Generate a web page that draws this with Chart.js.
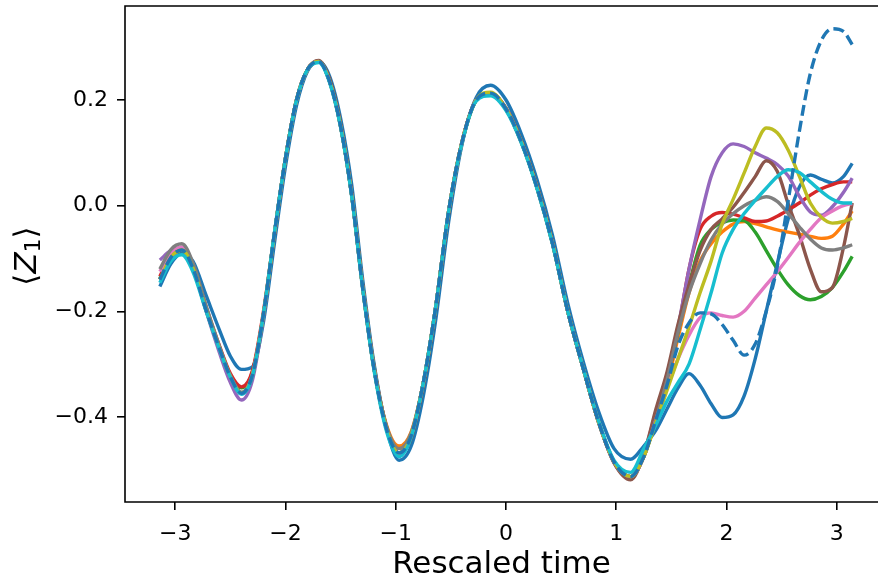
<!DOCTYPE html>
<html>
<head>
<meta charset="utf-8">
<script src="https://cdn.jsdelivr.net/npm/chart.js@4"></script>
<style>
  html, body { margin: 0; padding: 0; background: #fff; overflow: hidden; }
  canvas { display: block; }
</style>
</head>
<body>
<canvas id="myChart" width="878" height="580"></canvas>
<script>
// rescaled time samples shared by every run
var times = [-3.14, -3.04, -2.94, -2.84, -2.72, -2.6, -2.5, -2.4, -2.3, -2.2,
  -2.1, -2.0, -1.9, -1.8, -1.7, -1.6, -1.5, -1.4, -1.3, -1.2,
  -1.08, -0.97, -0.86, -0.75, -0.64, -0.52, -0.4, -0.27, -0.14, 0.0,
  0.14, 0.28, 0.42, 0.56, 0.7, 0.84, 0.98, 1.13, 1.25, 1.36,
  1.46, 1.56, 1.66, 1.76, 1.86, 1.96, 2.06, 2.16, 2.26, 2.36,
  2.46, 2.56, 2.66, 2.76, 2.86, 2.96, 3.06, 3.14];

var xTicks = [-3, -2, -1, 0, 1, 2, 3];
var yTicks = [-0.4, -0.2, 0.0, 0.2];

var runBlue = [-0.153, -0.11, -0.09, -0.105, -0.17, -0.235, -0.285, -0.31, -0.305, -0.22,
  -0.07, 0.075, 0.19, 0.255, 0.273, 0.245, 0.165, 0.04, -0.14, -0.295,
  -0.425, -0.482, -0.455, -0.36, -0.22, -0.03, 0.115, 0.205, 0.228, 0.2,
  0.135, 0.05, -0.055, -0.185, -0.295, -0.39, -0.46, -0.48, -0.455, -0.425,
  -0.385, -0.345, -0.318, -0.34, -0.375, -0.401, -0.396, -0.36, -0.29, -0.2,
  -0.11, -0.025, 0.035, 0.058, 0.05, 0.043, 0.055, 0.08];
var runOrange = [-0.14, -0.098, -0.084, -0.118, -0.198, -0.27, -0.324, -0.355, -0.32, -0.205,
  -0.052, 0.09, 0.2, 0.258, 0.273, 0.235, 0.15, 0.02, -0.155, -0.305,
  -0.418, -0.455, -0.428, -0.335, -0.195, -0.01, 0.12, 0.2, 0.213, 0.183,
  0.12, 0.035, -0.07, -0.2, -0.308, -0.41, -0.485, -0.513, -0.475, -0.405,
  -0.34, -0.25, -0.165, -0.105, -0.072, -0.05, -0.035, -0.03, -0.034, -0.04,
  -0.046, -0.05, -0.054, -0.058, -0.062, -0.058, -0.035, -0.01];
var runGreen = [-0.138, -0.098, -0.084, -0.118, -0.198, -0.27, -0.322, -0.345, -0.315, -0.205,
  -0.052, 0.09, 0.2, 0.258, 0.273, 0.235, 0.15, 0.02, -0.155, -0.305,
  -0.425, -0.468, -0.435, -0.335, -0.195, -0.01, 0.12, 0.2, 0.213, 0.183,
  0.12, 0.035, -0.07, -0.2, -0.308, -0.41, -0.485, -0.513, -0.475, -0.405,
  -0.33, -0.24, -0.15, -0.075, -0.045, -0.032, -0.027, -0.028, -0.05, -0.085,
  -0.12, -0.15, -0.17, -0.178, -0.172, -0.155, -0.125, -0.096];
var runRed = [-0.134, -0.092, -0.08, -0.112, -0.192, -0.265, -0.318, -0.343, -0.312, -0.2,
  -0.052, 0.09, 0.2, 0.258, 0.273, 0.235, 0.15, 0.02, -0.155, -0.305,
  -0.425, -0.468, -0.435, -0.335, -0.195, -0.01, 0.12, 0.2, 0.213, 0.183,
  0.12, 0.035, -0.07, -0.2, -0.308, -0.41, -0.485, -0.513, -0.475, -0.4,
  -0.33, -0.235, -0.12, -0.045, -0.02, -0.013, -0.016, -0.023, -0.03, -0.029,
  -0.02, -0.008, 0.005, 0.02, 0.032, 0.04, 0.045, 0.045];
var runPurple = [-0.103, -0.085, -0.08, -0.118, -0.2, -0.278, -0.335, -0.368, -0.33, -0.21,
  -0.052, 0.09, 0.2, 0.258, 0.273, 0.235, 0.15, 0.02, -0.155, -0.305,
  -0.425, -0.47, -0.435, -0.335, -0.195, -0.01, 0.12, 0.2, 0.213, 0.183,
  0.12, 0.035, -0.07, -0.2, -0.308, -0.41, -0.487, -0.516, -0.47, -0.39,
  -0.32, -0.23, -0.12, -0.027, 0.055, 0.1, 0.117, 0.112, 0.1, 0.09,
  0.078, 0.056, 0.018, -0.012, -0.018, -0.002, 0.025, 0.052];
var runBrown = [-0.14, -0.098, -0.082, -0.116, -0.196, -0.27, -0.324, -0.355, -0.322, -0.208,
  -0.055, 0.088, 0.2, 0.258, 0.275, 0.24, 0.155, 0.025, -0.15, -0.3,
  -0.422, -0.468, -0.44, -0.34, -0.2, -0.015, 0.118, 0.2, 0.213, 0.185,
  0.122, 0.038, -0.068, -0.198, -0.308, -0.41, -0.487, -0.519, -0.47, -0.385,
  -0.315, -0.225, -0.15, -0.085, -0.045, -0.025, -0.003, 0.025, 0.055, 0.085,
  0.065, 0.003, -0.055, -0.12, -0.163, -0.155, -0.08, 0.005];
var runPink = [-0.125, -0.09, -0.078, -0.112, -0.195, -0.27, -0.324, -0.355, -0.32, -0.205,
  -0.052, 0.09, 0.2, 0.258, 0.273, 0.235, 0.15, 0.02, -0.155, -0.305,
  -0.425, -0.468, -0.435, -0.335, -0.195, -0.01, 0.12, 0.2, 0.213, 0.183,
  0.12, 0.035, -0.07, -0.2, -0.308, -0.41, -0.485, -0.513, -0.475, -0.405,
  -0.345, -0.29, -0.245, -0.212, -0.203, -0.208, -0.211, -0.2, -0.175, -0.15,
  -0.125, -0.098, -0.07, -0.045, -0.023, -0.01, 0.0, 0.004];
var runGray = [-0.12, -0.083, -0.072, -0.108, -0.19, -0.266, -0.322, -0.353, -0.32, -0.205,
  -0.052, 0.09, 0.2, 0.258, 0.273, 0.235, 0.15, 0.02, -0.155, -0.305,
  -0.42, -0.46, -0.43, -0.335, -0.195, -0.01, 0.12, 0.2, 0.213, 0.183,
  0.12, 0.035, -0.07, -0.2, -0.308, -0.41, -0.485, -0.513, -0.475, -0.405,
  -0.33, -0.24, -0.165, -0.11, -0.065, -0.035, -0.015, 0.0, 0.01, 0.017,
  0.008, -0.015, -0.04, -0.063, -0.08, -0.084, -0.08, -0.074];
var runOlive = [-0.14, -0.098, -0.084, -0.118, -0.198, -0.27, -0.324, -0.355, -0.32, -0.205,
  -0.052, 0.09, 0.2, 0.258, 0.273, 0.235, 0.15, 0.02, -0.155, -0.305,
  -0.425, -0.468, -0.435, -0.335, -0.195, -0.01, 0.12, 0.2, 0.215, 0.183,
  0.12, 0.035, -0.07, -0.2, -0.308, -0.41, -0.485, -0.513, -0.475, -0.41,
  -0.35, -0.29, -0.23, -0.165, -0.105, -0.035, 0.012, 0.062, 0.112, 0.147,
  0.138, 0.105, 0.056, 0.005, -0.022, -0.033, -0.03, -0.024];
var runCyan = [-0.146, -0.105, -0.093, -0.125, -0.2, -0.272, -0.325, -0.357, -0.322, -0.205,
  -0.05, 0.09, 0.2, 0.258, 0.271, 0.233, 0.148, 0.018, -0.158, -0.308,
  -0.43, -0.475, -0.438, -0.335, -0.195, -0.01, 0.118, 0.198, 0.208, 0.18,
  0.118, 0.033, -0.072, -0.2, -0.308, -0.408, -0.482, -0.505, -0.46, -0.415,
  -0.37, -0.335, -0.3, -0.235, -0.165, -0.09, -0.045, -0.015, 0.01, 0.033,
  0.055, 0.068, 0.063, 0.045, 0.027, 0.012, 0.005, 0.005];
var runDashed = [-0.14, -0.098, -0.084, -0.118, -0.198, -0.27, -0.324, -0.355, -0.32, -0.205,
  -0.052, 0.09, 0.2, 0.258, 0.273, 0.235, 0.15, 0.02, -0.155, -0.305,
  -0.425, -0.468, -0.435, -0.335, -0.195, -0.01, 0.12, 0.2, 0.213, 0.183,
  0.12, 0.035, -0.07, -0.2, -0.308, -0.41, -0.485, -0.513, -0.475, -0.405,
  -0.34, -0.265, -0.222, -0.203, -0.205, -0.225, -0.255, -0.283, -0.262, -0.2,
  -0.115, 0.01, 0.14, 0.25, 0.313, 0.335, 0.33, 0.305];

var runs = [
  [runBlue, '#1f77b4'], [runOrange, '#ff7f0e'], [runGreen, '#2ca02c'],
  [runRed, '#d62728'], [runPurple, '#9467bd'], [runBrown, '#8c564b'],
  [runPink, '#e377c2'], [runGray, '#7f7f7f'], [runOlive, '#bcbd22'],
  [runCyan, '#17becf']
];

function toPoints(values) {
  return times.map(function (t, i) { return { x: t, y: values[i] }; });
}

var datasets = runs.map(function (r, i) {
  return {
    data: toPoints(r[0]),
    borderColor: r[1],
    borderWidth: 3.4,
    pointRadius: 0,
    fill: false,
    cubicInterpolationMode: 'monotone',
    order: 10 - i
  };
});
datasets.push({
  data: toPoints(runDashed),
  borderColor: '#1f77b4',
  borderWidth: 3.4,
  borderDash: [11, 5],
  pointRadius: 0,
  fill: false,
  cubicInterpolationMode: 'monotone',
  order: 0
});

function minusFmt(v, digits) {
  var s = Math.abs(v).toFixed(digits);
  return v < -1e-9 ? '\u2212' + s : s;
}

var spines = {
  id: 'spines',
  afterDatasetsDraw: function (chart) {
    var a = chart.chartArea, c = chart.ctx;
    c.save();
    c.strokeStyle = '#000';
    c.lineWidth = 1.6;
    c.beginPath();
    c.moveTo(chart.width + 2, a.top);
    c.lineTo(a.left, a.top);
    c.lineTo(a.left, a.bottom);
    c.lineTo(chart.width + 2, a.bottom);
    c.stroke();
    c.restore();
  }
};

// y label: <Z_1> with italic Z and a subscript
var yLabel = {
  id: 'yLabel',
  afterDraw: function (chart) {
    var c = chart.ctx;
    var big = '31px "DejaVu Sans"', ital = 'italic 31px "DejaVu Sans"', small = '22px "DejaVu Sans"';
    var parts = [['\u27e8', big, 0], ['Z', ital, 0], ['1', small, 6], ['\u27e9', big, 0]];
    c.save();
    var total = 0;
    parts.forEach(function (p) { c.font = p[1]; total += c.measureText(p[0]).width; });
    c.translate(28, 256);
    c.rotate(-Math.PI / 2);
    c.fillStyle = '#000';
    c.textBaseline = 'middle';
    var x = -total / 2;
    parts.forEach(function (p) {
      c.font = p[1];
      c.fillText(p[0], x, p[2]);
      x += c.measureText(p[0]).width;
    });
    c.restore();
  }
};

var ctx = document.getElementById('myChart').getContext('2d');
var myChart = new Chart(ctx, {
  type: 'line',
  data: { datasets: datasets },
  plugins: [spines, yLabel],
  options: {
    responsive: false,
    animation: false,
    events: [],
    layout: { padding: { top: 6, left: 0, right: 0, bottom: 0 } },
    plugins: {
      legend: { display: false },
      tooltip: { enabled: false }
    },
    scales: {
      x: {
        type: 'linear',
        min: -3.456,
        max: 3.374,
        afterBuildTicks: function (s) { s.ticks = xTicks.map(function (v) { return { value: v }; }); },
        afterFit: function (s) { s.height = 78; s.paddingLeft = 0; s.paddingRight = 0; },
        border: { display: false },
        grid: { drawOnChartArea: false, drawTicks: true, tickLength: 8, color: '#000', lineWidth: 1.6 },
        ticks: {
          padding: 11, color: '#000', maxRotation: 0, autoSkip: false,
          font: { family: 'DejaVu Sans', size: 22 },
          callback: function (v) { return minusFmt(v, 0); }
        },
        title: {
          display: true, text: 'Rescaled time', color: '#000',
          font: { family: 'DejaVu Sans', size: 31, lineHeight: 1 },
          padding: { top: 0, bottom: 0 }
        }
      },
      y: {
        min: -0.561,
        max: 0.378,
        afterBuildTicks: function (s) { s.ticks = yTicks.map(function (v) { return { value: v }; }); },
        afterFit: function (s) { s.width = 125; s.paddingTop = 0; s.paddingBottom = 0; },
        border: { display: false },
        grid: { drawOnChartArea: false, drawTicks: true, tickLength: 8, color: '#000', lineWidth: 1.6 },
        ticks: {
          padding: 9, color: '#000',
          font: { family: 'DejaVu Sans', size: 22 },
          callback: function (v) { return minusFmt(v, 1); }
        }
      }
    }
  }
});
</script>
</body>
</html>
